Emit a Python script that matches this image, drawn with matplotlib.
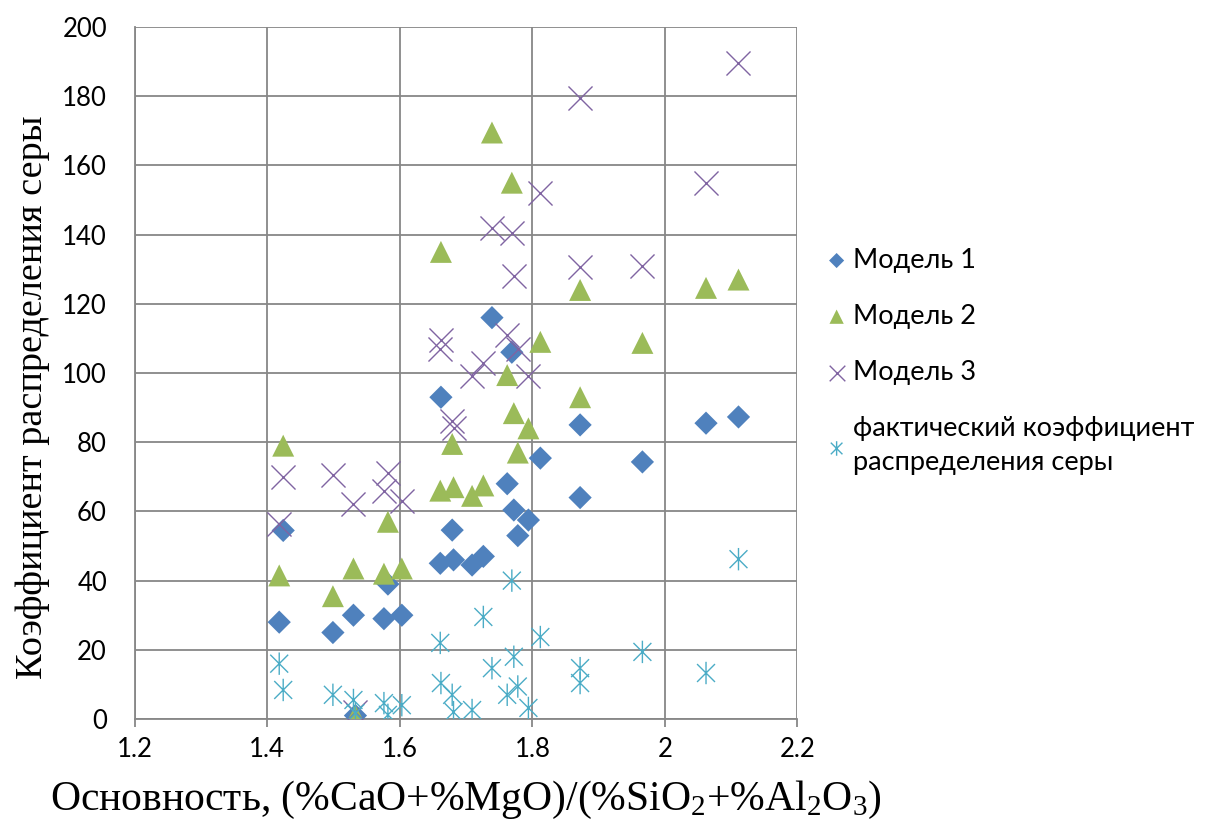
import matplotlib
matplotlib.use("Agg")
import matplotlib.pyplot as plt
from matplotlib.path import Path

# Basicity (x) for each observation
basicity = [1.418, 1.424, 1.499, 1.530, 1.533, 1.576, 1.582, 1.603, 1.661, 1.662,
            1.679, 1.681, 1.709, 1.726, 1.739, 1.762, 1.769, 1.772, 1.778, 1.794,
            1.812, 1.872, 1.872, 1.966, 2.062, 2.111]
model1 = [28, 54.5, 25, 30, 1, 29, 39, 30, 45, 93,
          54.6, 46, 44.5, 47, 116, 68, 106, 60.4, 53, 57.5,
          75.4, 85, 64, 74.3, 85.5, 87.3]
model2 = [41.5, 79, 35.5, 43.5, 1, 42, 57, 43.5, 66, 135,
          79.5, 67, 64.5, 67.5, 169.5, 99.4, 155, 88.4, 77, 84,
          109, 124, 93, 108.7, 124.6, 127]
model3 = [56.5, 70, 70.5, 62, 2, 66, 71, 63, 107, 109.5,
          86, 84, 99, 103, 142, 111, 140.5, 128, 107, 99,
          152, 179.5, 130.5, 131, 155, 189.6]
actual = [16, 8.4, 7, 5.5, 1.7, 4.6, 1.2, 4, 22, 10.4,
          7, 2, 2.6, 29.5, 14.7, 7, 40, 18, 9.4, 3.2,
          23.7, 14.7, 10.4, 19.4, 13.3, 46.2]

labels = ["Модель 1", "Модель 2", "Модель 3",
          "фактический коэффициент\nраспределения серы"]
x_ticks = [1.2, 1.4, 1.6, 1.8, 2.0, 2.2]
x_ticklabels = ["1.2", "1.4", "1.6", "1.8", "2", "2.2"]
y_ticks = list(range(0, 201, 20))

plt.rcParams["mathtext.fontset"] = "custom"
plt.rcParams["mathtext.rm"] = "Liberation Serif"
plt.rcParams["mathtext.it"] = "Liberation Serif:italic"
plt.rcParams["mathtext.bf"] = "Liberation Serif:bold"

star = Path([(-1, -1), (1, 1), (-1, 1), (1, -1), (0, -1.25), (0, 1.25)],
            [Path.MOVETO, Path.LINETO, Path.MOVETO, Path.LINETO, Path.MOVETO, Path.LINETO])

fig = plt.figure(figsize=(12.25, 8.3), dpi=100)
ax = fig.add_axes([0.110, 0.1337, 0.541, 0.8338])

ax.scatter(basicity, model1, marker="D", s=140, color="#4F81BD", edgecolors="none",
           label=labels[0], zorder=3)
ax.scatter(basicity, model2, marker="^", s=250, color="#9BBB59", edgecolors="none",
           label=labels[1], zorder=3)
ax.scatter(basicity, model3, marker="x", s=300, color="#8064A2", linewidths=1.0,
           label=labels[2], zorder=3)
ax.scatter(basicity, actual, marker=star, s=260, facecolors="none", edgecolors="#4BACC6",
           linewidths=1.0, label=labels[3], zorder=3)

ax.set_xlim(1.2, 2.2)
ax.set_ylim(0, 200)
ax.set_xticks(x_ticks)
ax.set_xticklabels(x_ticklabels)
ax.set_yticks(y_ticks)
ax.grid(True, color="#878787", linewidth=1.3)
ax.set_axisbelow(True)
for s in ["top", "right"]:
    ax.spines[s].set_visible(False)
for s in ["left", "bottom"]:
    ax.spines[s].set_color("#878787")
    ax.spines[s].set_linewidth(1.3)
ax.tick_params(axis="both", colors="#878787", length=6, width=1.3, labelcolor="black",
               labelsize=18.5)
ax.tick_params(axis="x", pad=7)
ax.tick_params(axis="y", pad=20, length=0)
for lab in ax.get_xticklabels() + ax.get_yticklabels():
    lab.set_family("Lato")

ax.set_xlabel("Основность, (%CaO+%MgO)/(%SiO$_2$+%Al$_2$O$_3$)",
              family="Liberation Serif", fontsize=30, labelpad=12)
ax.set_ylabel("Коэффициент распределения серы", family="Liberation Serif",
              fontsize=27.5)
ax.yaxis.set_label_coords(-0.128, 0.465)

leg = fig.legend(loc="upper left", bbox_to_anchor=(0.652, 0.731), frameon=False,
                 prop={"family": "Lato", "size": 19.5}, handletextpad=0.12,
                 labelspacing=1.15, handlelength=1.0, scatterpoints=1,
                 markerscale=0.65)
leg.get_texts()[3].set_linespacing(1.45)

fig.savefig("out.png", dpi=100)
